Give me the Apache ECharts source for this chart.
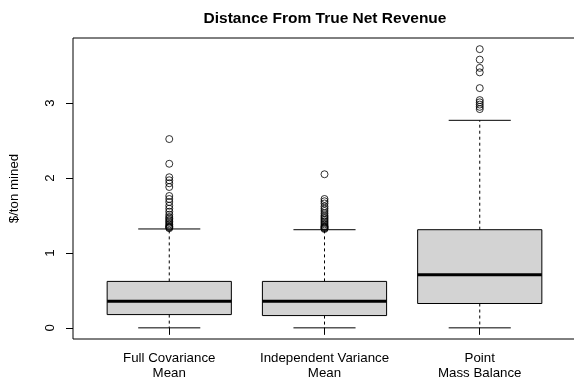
<!DOCTYPE html>
<html>
<head>
<meta charset="utf-8">
<script src="https://cdn.jsdelivr.net/npm/echarts@6/dist/echarts.min.js"></script>
<style>
  html, body { margin: 0; padding: 0; background: #fff; }
  #chart { width: 574px; height: 390px; }
</style>
</head>
<body>
<div id="chart"></div>
<script>
// Box-plot summary per method ($/ton mined)
const categories = ['Full Covariance\nMean', 'Independent Variance\nMean', 'Point\nMass Balance'];
const whiskerLow = [0, 0, 0];
const quartile1 = [0.177, 0.164, 0.325];
const medians = [0.355, 0.355, 0.71];
const quartile3 = [0.62, 0.62, 1.31];
const whiskerHigh = [1.32, 1.31, 2.77];

// Points beyond the upper whisker
const outliersFull = [2.52, 2.19, 2.01, 1.97, 1.93, 1.88, 1.76, 1.72, 1.68, 1.63, 1.59, 1.55,
  1.51, 1.48, 1.46, 1.44, 1.42, 1.40, 1.38, 1.36, 1.35, 1.34, 1.33];
const outliersIndep = [2.05, 1.72, 1.69, 1.66, 1.62, 1.59, 1.56, 1.53, 1.50, 1.48, 1.46,
  1.44, 1.42, 1.40, 1.38, 1.36, 1.35, 1.34, 1.33, 1.32];
const outliersPoint = [3.72, 3.58, 3.47, 3.41, 3.20, 3.04, 3.01, 2.98, 2.95, 2.92];

const yTicks = [0, 1, 2, 3];
const xTicks = [1, 2, 3];

const boxData = categories.map((c, i) => [i + 1, whiskerLow[i], quartile1[i], medians[i], quartile3[i], whiskerHigh[i]]);
const outlierData = [];
[outliersFull, outliersIndep, outliersPoint].forEach((arr, i) => {
  arr.forEach(v => outlierData.push([i + 1, v]));
});

const BOX_HALF = 0.4;    // box half width in x units
const STAPLE_HALF = 0.2; // whisker end half width

function renderBox(params, api) {
  const x = api.value(0);
  const lo = api.coord([x, api.value(1)]);
  const q1 = api.coord([x, api.value(2)]);
  const md = api.coord([x, api.value(3)]);
  const q3 = api.coord([x, api.value(4)]);
  const hi = api.coord([x, api.value(5)]);
  const left = api.coord([x - BOX_HALF, 0])[0];
  const right = api.coord([x + BOX_HALF, 0])[0];
  const sl = api.coord([x - STAPLE_HALF, 0])[0];
  const sr = api.coord([x + STAPLE_HALF, 0])[0];
  const cx = lo[0];
  const dashed = { stroke: '#000', lineWidth: 1, lineDash: [3, 3] };
  const solid = { stroke: '#000', lineWidth: 1 };
  return {
    type: 'group',
    children: [
      { type: 'line', shape: { x1: cx, y1: q3[1], x2: cx, y2: hi[1] }, style: dashed },
      { type: 'line', shape: { x1: cx, y1: q1[1], x2: cx, y2: lo[1] }, style: dashed },
      { type: 'line', shape: { x1: sl, y1: hi[1], x2: sr, y2: hi[1] }, style: solid },
      { type: 'line', shape: { x1: sl, y1: lo[1], x2: sr, y2: lo[1] }, style: solid },
      { type: 'rect', shape: { x: left, y: q3[1], width: right - left, height: q1[1] - q3[1] },
        style: { fill: '#d3d3d3', stroke: '#000', lineWidth: 1 } },
      { type: 'line', shape: { x1: left, y1: md[1], x2: right, y2: md[1] },
        style: { stroke: '#000', lineWidth: 3 } }
    ]
  };
}

const chart = echarts.init(document.getElementById('chart'), null, { renderer: 'canvas' });
const font = 'Liberation Sans, Arial, Helvetica, sans-serif';

chart.setOption({
  animation: false,
  backgroundColor: '#ffffff',
  textStyle: { fontFamily: font, color: '#000' },
  title: {
    text: 'Distance From True Net Revenue',
    left: 320,
    top: 6,
    textAlign: 'center',
    textStyle: { fontFamily: font, fontSize: 15.5, fontWeight: 'bold', color: '#000' }
  },
  grid: {
    left: 73, right: -2, top: 38, bottom: 51,
    outerBoundsMode: 'none',
    containLabel: false,
    show: true, borderColor: '#000', borderWidth: 1, backgroundColor: 'transparent'
  },
  xAxis: {
    type: 'value',
    min: 0.38, max: 3.62,
    splitLine: { show: false },
    axisLine: { show: false },
    axisTick: { show: true, length: 7, customValues: xTicks, lineStyle: { color: '#000' } },
    axisLabel: {
      customValues: xTicks,
      formatter: v => categories[Math.round(v) - 1] || '',
      margin: 12,
      fontSize: 13.3,
      lineHeight: 15,
      color: '#000',
      fontFamily: font
    }
  },
  yAxis: {
    type: 'value',
    min: -0.1488, max: 3.8688,
    name: '$/ton mined',
    nameLocation: 'middle',
    nameGap: 52,
    nameRotate: 90,
    nameTextStyle: { fontSize: 13.3, color: '#000', fontFamily: font },
    splitLine: { show: false },
    axisLine: { show: false },
    axisTick: { show: true, length: 7, customValues: yTicks, lineStyle: { color: '#000' } },
    axisLabel: {
      customValues: yTicks,
      rotate: 90,
      margin: 16,
      fontSize: 13.3,
      color: '#000',
      fontFamily: font
    }
  },
  series: [
    {
      type: 'custom',
      renderItem: renderBox,
      data: boxData,
      encode: { x: 0, y: [1, 2, 3, 4, 5] },
      z: 2
    },
    {
      type: 'scatter',
      data: outlierData,
      symbol: 'circle',
      symbolSize: 7,
      itemStyle: { color: 'rgba(255,255,255,0)', borderColor: '#000', borderWidth: 1 },
      z: 3
    }
  ]
});
</script>
</body>
</html>
